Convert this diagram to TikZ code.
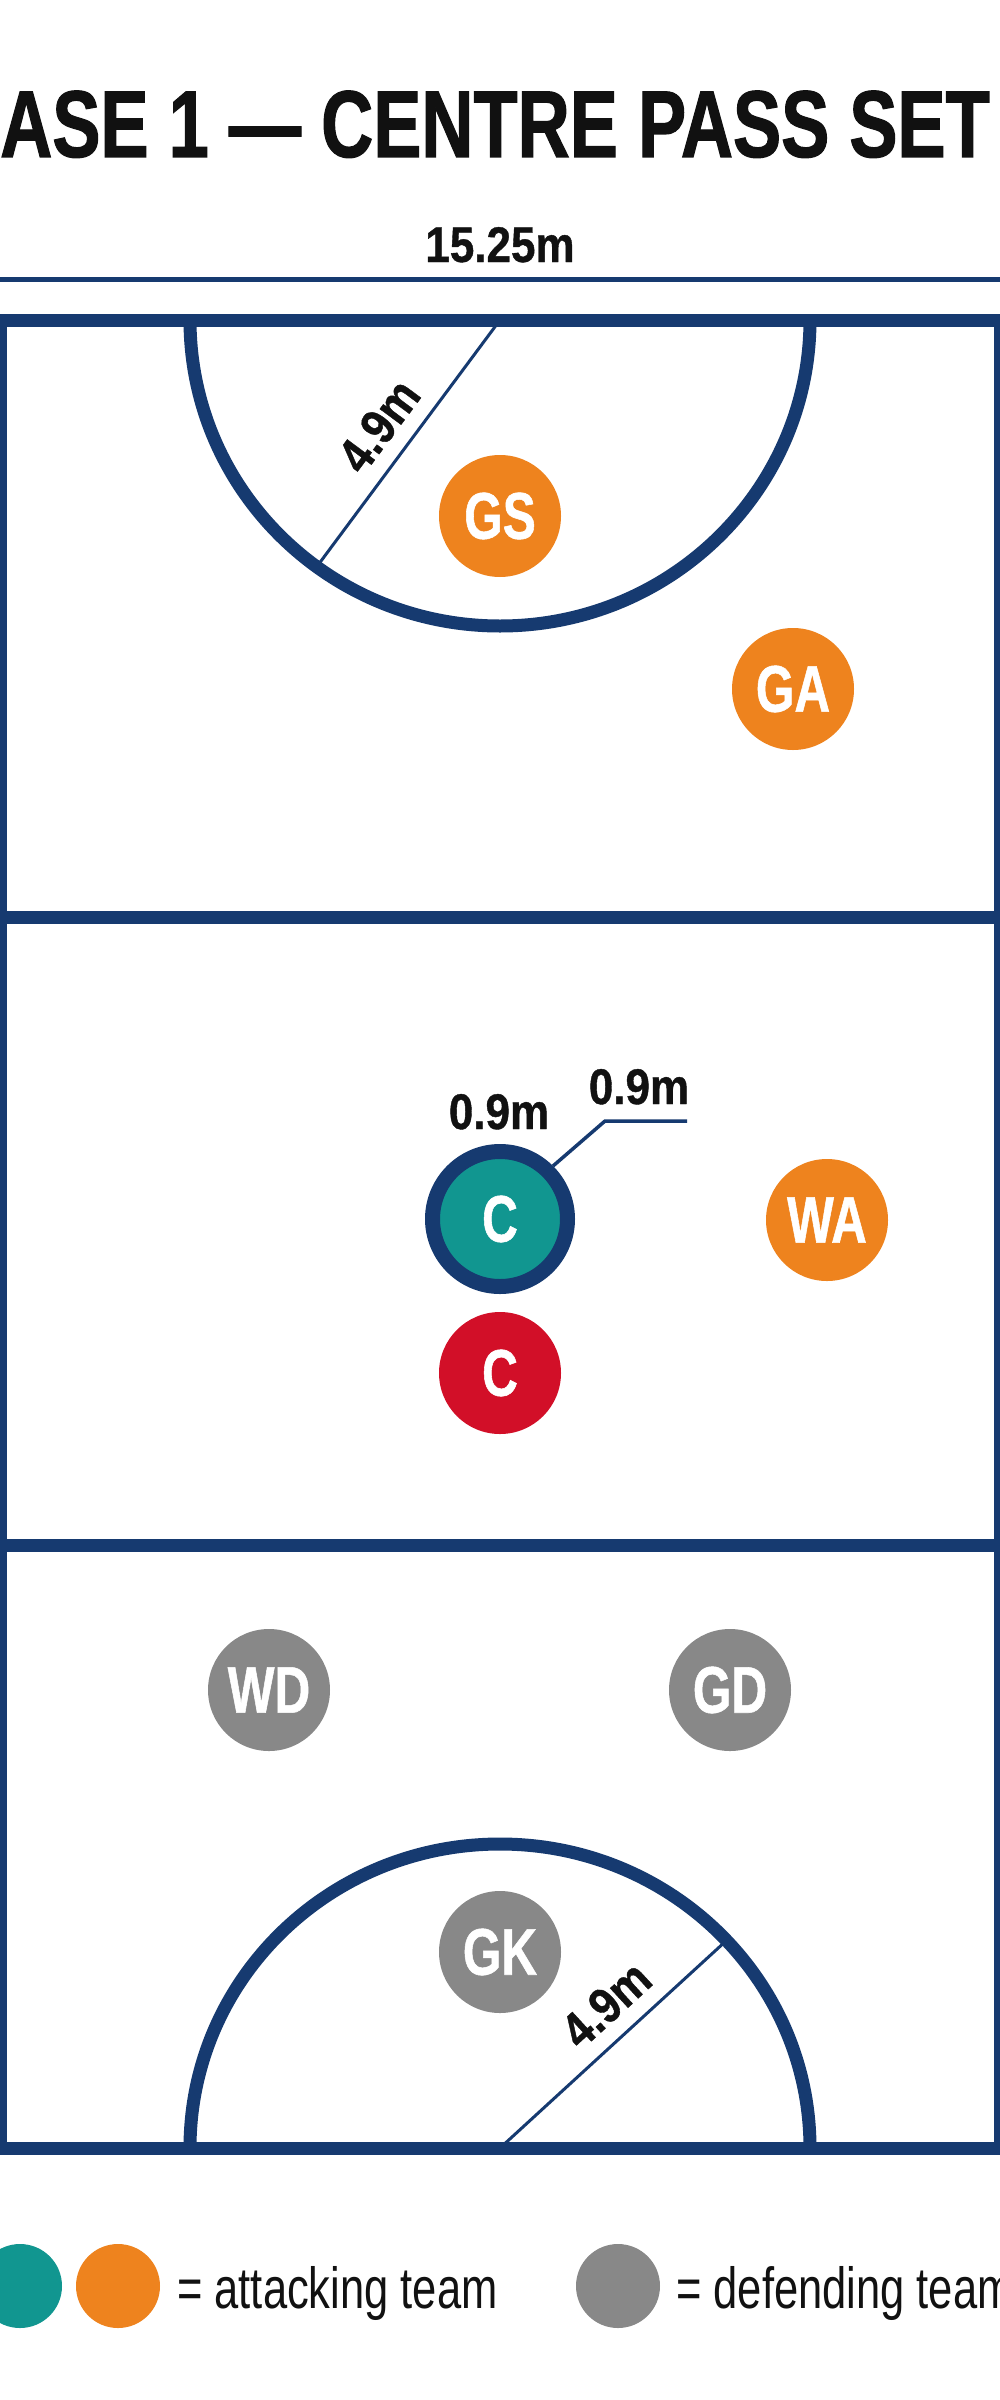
\documentclass[tikz,border=0pt]{standalone}
\usepackage{fontspec}
\setmainfont{Liberation Sans}
\newfontfamily\titlefont[FakeStretch=0.76,FakeBold=1.2]{Liberation Sans}
\newfontfamily\dimfont[FakeStretch=0.88,FakeBold=0.8]{Liberation Sans}
\newfontfamily\playerfont[FakeStretch=0.75,FakeBold=0.8]{Liberation Sans}
\newfontfamily\legendfont[FakeStretch=0.75]{Liberation Sans}
\definecolor{courtnavy}{RGB}{22,58,112}
\definecolor{teamorange}{RGB}{238,131,30}
\definecolor{teamteal}{RGB}{17,150,144}
\definecolor{teamred}{RGB}{210,15,40}
\definecolor{teamgray}{RGB}{136,136,136}
\definecolor{inkblack}{RGB}{17,17,17}
\begin{document}
\begin{tikzpicture}[x=1pt,y=1pt,
  court/.style={draw=courtnavy,line width=13pt},
  thinline/.style={draw=courtnavy,line width=3pt},
  player/.style={circle,minimum size=122pt,inner sep=0pt,text=white,
    font=\playerfont\bfseries\fontsize{66}{66}\selectfont},
  dimlabel/.style={inner sep=0pt,text=inkblack,
    font=\dimfont\bfseries\fontsize{50}{50}\selectfont},
  legdot/.style={circle,minimum size=84pt,inner sep=0pt},
  legtext/.style={anchor=base west,inner sep=0pt,text=inkblack,
    font=\legendfont\fontsize{58}{58}\selectfont}
]
\useasboundingbox (0,0) rectangle (1000,-2400);
\fill[white] (0,0) rectangle (1000,-2400);

% title
\node[anchor=base west,inner sep=0pt,text=inkblack,
  font=\titlefont\bfseries\fontsize{95}{95}\selectfont] (title) at (0,-157) {ASE 1 — CENTRE PASS SET};

% width dimension
\node[dimlabel,anchor=base] (widthlab) at (500,-262) {15.25m};
\coordinate (dl) at (0,-279.5);
\coordinate (dr) at (1000,-279.5);
\draw[draw=courtnavy,line width=4pt] (dl) -- (dr);

% court
\draw[court] (0,-320) rectangle (1000,-2148);
\coordinate (t1l) at (0,-917);
\coordinate (t1r) at (1000,-917);
\coordinate (t2l) at (0,-1545);
\coordinate (t2r) at (1000,-1545);
\draw[court] (t1l) -- (t1r);
\draw[court] (t2l) -- (t2r);

% goal circles
\coordinate (tc) at (500,-320);
\coordinate (bc) at (500,-2148);
\draw[court] (190,-320) arc[start angle=180,end angle=360,x radius=310,y radius=306];
\draw[court] (190,-2148) arc[start angle=180,end angle=0,x radius=310,y radius=304];

% radius lines
\coordinate (tr) at ([shift={(233.4:305)}]tc);
\coordinate (br) at ([shift={(42.5:302)}]bc);
\draw[thinline] (tr) -- (tc) node[pos=0.485,sloped,anchor=south,dimlabel,inner sep=15pt] (toprad) {4.9m};
\draw[thinline] (bc) -- (br) node[pos=0.58,sloped,anchor=south,dimlabel,inner sep=15pt] (botrad) {4.9m};

% players
\node[player,fill=teamorange] (gs) at (500,-516) {GS};
\node[player,fill=teamorange] (ga) at (793,-689) {GA};
\node[player,fill=teamteal,draw=courtnavy,line width=15pt,minimum size=135pt] (catt) at (500,-1219) {C};
\node[player,fill=teamred] (cdef) at (500,-1373) {C};
\node[player,fill=teamorange] (wa) at (827,-1220) {WA};
\node[player,fill=teamgray] (wd) at (269,-1690) {WD};
\node[player,fill=teamgray] (gd) at (730,-1690) {GD};
\node[player,fill=teamgray] (gk) at (500,-1952) {GK};

% 0.9m labels and leader
\node[dimlabel,anchor=base] (circlab) at (499,-1129) {0.9m};
\node[dimlabel,anchor=base] (leadlab) at (639,-1104) {0.9m};
\coordinate (k1) at (605,-1121);
\coordinate (k2) at (687,-1121);
\draw[draw=courtnavy,line width=3.5pt] (catt.45) -- (k1) -- (k2);

% legend
\node[legdot,fill=teamteal] (legteal) at (20,-2286) {};
\node[legdot,fill=teamorange] (legorange) at (118,-2286) {};
\node[legtext] (legatt) at (177,-2308) {= attacking team};
\node[legdot,fill=teamgray] (leggray) at (618,-2286) {};
\node[legtext] (legdef) at (676,-2308) {= defending team};
\end{tikzpicture}
\end{document}
